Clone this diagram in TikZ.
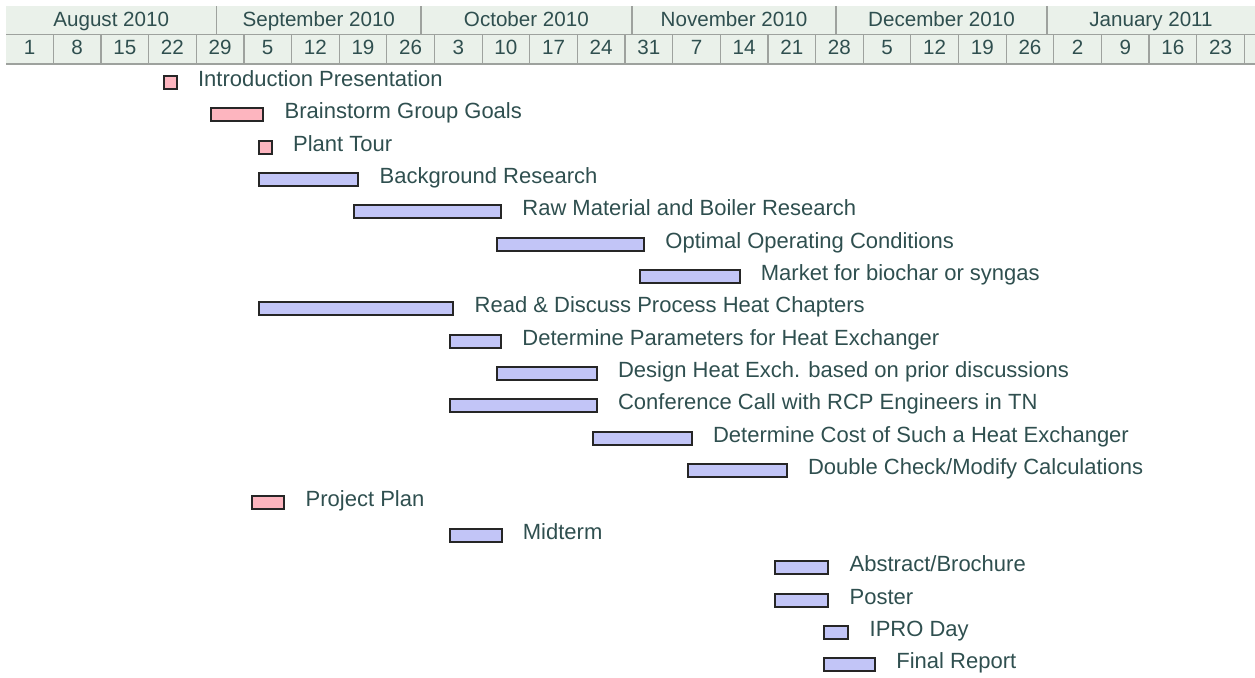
\documentclass[tikz,border=0pt]{standalone}
\usepackage{fontspec}
\setmainfont{Liberation Sans}
\definecolor{txt}{HTML}{2F4F4F}
\definecolor{hdrbg}{HTML}{EAF1EA}
\definecolor{hdrln}{HTML}{9EA29E}
\definecolor{pinkf}{HTML}{FDB5BF}
\definecolor{bluef}{HTML}{C2C5F7}
\tikzset{
  hdrline/.style={draw=hdrln, line width=0.6pt},
  hdrtext/.style={inner sep=0pt, anchor=base, text=txt, font=\fontsize{10.3}{12}\selectfont},
  barbase/.style={draw=black!85, line width=1pt, inner sep=0pt, minimum height=6.5pt, rectangle},
  pinkbar/.style={barbase, fill=pinkf},
  bluebar/.style={barbase, fill=bluef},
  tasklabel/.style={inner sep=0pt, anchor=base west, text=txt, font=\fontsize{11}{13}\selectfont}
}
\newcommand\ganttbar[6]{%
  \pgfmathsetmacro\gy{82.4+32.35*#5}%
  \pgfmathsetmacro\gw{(#4-#3-2)*0.5}%
  \node[#2, minimum width=\gw pt, anchor=west] (#1) at (#3+1, \gy) {};
  \node[tasklabel] (#1l) at (#4+21, \gy+4) {#6};
}
\begin{document}
\begin{tikzpicture}[x=0.5pt, y=-0.5pt]
\useasboundingbox (0,0) rectangle (1255,677);
% header
\fill[hdrbg] (6,6) rectangle (1255,64);
\foreach \mx in {216.7,420.9,631.9,836.0,1047.0}
  \draw[hdrline] (\mx,6) -- (\mx,34.5);
\draw[hdrline] (6,34.5) -- (1255,34.5);
\foreach \k in {1,...,26}
  \draw[hdrline] ({5.7+47.64*\k},34.5) -- ({5.7+47.64*\k},64);
\draw[hdrline, line width=1pt] (6,64) -- (1255,64);
\node[hdrtext] (m1) at (111.2,26) {August 2010};
\node[hdrtext] (m2) at (318.8,26) {September 2010};
\node[hdrtext] (m3) at (526.4,26) {October 2010};
\node[hdrtext] (m4) at (734.0,26) {November 2010};
\node[hdrtext] (m5) at (941.5,26) {December 2010};
\node[hdrtext] (m6) at (1151.0,26) {January 2011};
\foreach \d [count=\k from 0] in {1,8,15,22,29,5,12,19,26,3,10,17,24,31,7,14,21,28,5,12,19,26,2,9,16,23}
  \node[hdrtext] (w\k) at ({5.7+47.64*(\k+0.5)},54.5) {\d};
% bars
\ganttbar{t0}{pinkbar}{161.7}{176.7}{0}{Introduction Presentation}
\ganttbar{t1}{pinkbar}{209.3}{263.3}{1}{Brainstorm Group Goals}
\ganttbar{t2}{pinkbar}{256.7}{271.7}{2}{Plant Tour}
\ganttbar{t3}{bluebar}{256.7}{358.3}{3}{Background Research}
\ganttbar{t4}{bluebar}{352.3}{501.0}{4}{Raw Material and Boiler Research}
\ganttbar{t5}{bluebar}{495.3}{644.0}{5}{Optimal Operating Conditions}
\ganttbar{t6}{bluebar}{637.5}{739.5}{6}{Market for biochar or syngas}
\ganttbar{t7}{bluebar}{257.3}{453.3}{7}{Read \& Discuss Process Heat Chapters}
\ganttbar{t8}{bluebar}{447.7}{501.0}{8}{Determine Parameters for Heat Exchanger}
\ganttbar{t9}{bluebar}{495.3}{596.7}{9}{Design Heat Exch. based on prior discussions}
\ganttbar{t10}{bluebar}{447.7}{596.7}{10}{Conference Call with RCP Engineers in TN}
\ganttbar{t11}{bluebar}{590.5}{691.7}{11}{Determine Cost of Such a Heat Exchanger}
\ganttbar{t12}{bluebar}{686.0}{786.7}{12}{Double Check/Modify Calculations}
\ganttbar{t13}{pinkbar}{250.0}{284.3}{13}{Project Plan}
\ganttbar{t14}{bluebar}{447.7}{501.5}{14}{Midterm}
\ganttbar{t15}{bluebar}{773.3}{828.3}{15}{Abstract/Brochure}
\ganttbar{t16}{bluebar}{773.3}{828.3}{16}{Poster}
\ganttbar{t17}{bluebar}{821.7}{848.3}{17}{IPRO Day}
\ganttbar{t18}{bluebar}{821.7}{875.0}{18}{Final Report}
\end{tikzpicture}
\end{document}
